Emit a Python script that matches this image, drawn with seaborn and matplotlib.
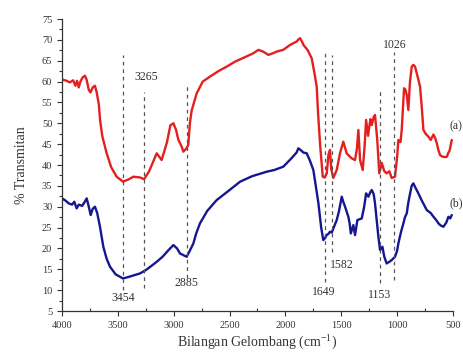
import matplotlib
matplotlib.use("Agg")
import matplotlib.pyplot as plt
import seaborn as sns
import pandas as pd
from matplotlib.ticker import MultipleLocator

# ---- data ----
wn_a = [4000, 3960, 3930, 3900, 3880, 3865, 3850, 3835, 3815, 3795, 3780, 3760, 3745, 3725,
        3705, 3690, 3670, 3660, 3640, 3600, 3560, 3511, 3454, 3400, 3361, 3300, 3265, 3220,
        3180, 3152, 3108, 3060, 3030, 3003, 2980, 2958, 2930, 2914, 2885, 2870, 2855, 2840,
        2794, 2740, 2675, 2600, 2525, 2450, 2350, 2287, 2242, 2200, 2153, 2110, 2078, 2020,
        1958, 1900, 1880, 1869, 1850, 1839, 1800, 1765, 1740, 1720, 1708, 1690, 1666, 1649,
        1630, 1615, 1601, 1590, 1571, 1541, 1510, 1482, 1452, 1407, 1377, 1360, 1347, 1332,
        1308, 1290, 1278, 1260, 1240, 1227, 1210, 1198, 1178, 1160, 1138, 1115, 1094, 1070,
        1049, 1019, 1000, 989, 970, 959, 945, 938, 925, 914, 900, 885, 869, 855, 840, 815,
        795, 780, 765, 745, 720, 700, 675, 660, 645, 630, 616, 595, 571, 555, 544, 530, 511]
tr_a = [60.5, 60.2, 59.8, 60.3, 59.0, 60.2, 58.6, 60.0, 61.0, 61.4, 60.5, 58.0, 57.4, 58.6,
        59.0, 57.5, 54.5, 51.0, 47.0, 42.8, 39.5, 37.2, 36.0, 36.6, 37.2, 37.0, 36.6, 38.5,
        41.0, 42.8, 41.2, 45.5, 49.5, 50.0, 48.5, 46.0, 44.5, 43.2, 44.0, 44.8, 50.0, 53.0,
        57.2, 60.0, 61.2, 62.5, 63.6, 64.8, 66.0, 66.8, 67.6, 67.2, 66.4, 66.8, 67.2, 67.6,
        68.8, 69.6, 70.2, 70.4, 69.5, 68.8, 67.5, 65.6, 62.0, 58.8, 52.5, 45.0, 37.2, 37.0,
        38.0, 42.5, 43.6, 39.0, 36.9, 38.8, 43.0, 45.6, 42.8, 41.6, 41.2, 44.0, 48.4, 41.2,
        38.8, 45.0, 50.8, 47.0, 51.0, 49.6, 51.5, 52.0, 46.0, 38.0, 40.5, 38.5, 38.0, 38.5,
        36.9, 37.2, 42.0, 46.0, 45.5, 48.4, 55.0, 58.4, 58.0, 56.8, 53.2, 60.0, 63.6, 64.0,
        63.6, 61.0, 58.8, 54.0, 48.4, 47.5, 46.8, 46.0, 47.3, 46.5, 45.2, 43.5, 42.4, 42.0,
        41.9, 42.0, 42.8, 43.5, 46.0]

wn_b = [4000, 3970, 3940, 3910, 3890, 3869, 3850, 3820, 3800, 3779, 3760, 3743, 3725, 3705,
        3685, 3660, 3630, 3600, 3570, 3520, 3454, 3400, 3302, 3250, 3200, 3152, 3100, 3050,
        3003, 2970, 2944, 2884, 2855, 2824, 2800, 2765, 2700, 2615, 2500, 2406, 2300, 2167,
        2100, 2019, 1950, 1900, 1884, 1860, 1840, 1809, 1780, 1750, 1705, 1680, 1661, 1645,
        1631, 1615, 1601, 1585, 1571, 1541, 1520, 1496, 1480, 1466, 1437, 1425, 1415, 1392,
        1377, 1356, 1335, 1317, 1295, 1278, 1257, 1240, 1227, 1210, 1198, 1168, 1153, 1132,
        1115, 1094, 1070, 1049, 1019, 1000, 989, 965, 944, 930, 914, 900, 884, 870, 855, 835,
        810, 780, 760, 735, 700, 675, 650, 630, 610, 586, 560, 541, 525, 511]
tr_b = [32.0, 31.5, 30.8, 30.5, 31.2, 29.6, 30.5, 30.2, 31.0, 32.0, 30.0, 28.0, 29.5, 30.0,
        28.5, 25.2, 20.4, 17.5, 15.6, 13.8, 12.8, 13.2, 14.0, 14.8, 15.8, 16.8, 18.0, 19.5,
        20.8, 20.0, 18.8, 18.0, 19.5, 21.2, 23.5, 26.0, 29.0, 31.6, 34.0, 36.0, 37.3, 38.4,
        38.8, 39.6, 41.5, 43.0, 44.0, 43.5, 43.0, 42.8, 41.0, 38.8, 30.9, 25.0, 22.0, 22.5,
        23.2, 23.5, 24.0, 23.8, 24.8, 26.8, 29.0, 32.4, 31.0, 30.0, 27.6, 26.0, 23.6, 25.6,
        23.2, 26.8, 27.0, 27.2, 30.0, 33.2, 32.4, 33.5, 34.0, 33.0, 30.8, 22.8, 19.6, 20.4,
        18.0, 16.4, 16.8, 17.2, 18.0, 19.5, 21.2, 24.0, 26.0, 27.5, 28.4, 31.0, 33.2, 35.0,
        35.6, 34.5, 33.2, 31.5, 30.5, 29.2, 28.5, 27.6, 26.8, 26.0, 25.5, 25.2, 26.2, 27.6,
        27.2, 28.0]

peaks = [3454, 3265, 2885, 1649, 1582, 1153, 1026]
peak_top = [66.4, 57.6, 59.6, 67.6, 66.4, 58.4, 67.2]
peak_bottom = [10.0, 10.5, 12.9, 12.0, 19.2, 11.6, 12.4]
peak_labels = ["3454", "3265", "2885", "1649", "1582", "1153", "1026"]
label_x = [3454, 3245, 2885, 1660, 1496, 1160, 1020]
label_y = [8.1, 61.1, 11.6, 9.6, 16.0, 8.8, 68.8]

series_labels = ["(a)", "(b)"]
series_label_y = [49.2, 30.9]

df = pd.concat([
    pd.DataFrame({"wn": wn_a, "T": tr_a, "s": "a"}),
    pd.DataFrame({"wn": wn_b, "T": tr_b, "s": "b"}),
])

sns.set_style("ticks")
plt.rcParams["font.family"] = ["Liberation Serif", "DejaVu Serif"]
plt.rcParams["mathtext.fontset"] = "custom"
plt.rcParams["mathtext.rm"] = "Liberation Serif"
plt.rcParams["mathtext.it"] = "Liberation Serif:italic"

fig = plt.figure(figsize=(4.64, 3.56), dpi=100)
ax = fig.add_axes([0.1336, 0.1264, 0.8427, 0.8202])

sns.lineplot(data=df, x="wn", y="T", hue="s", sort=False, estimator=None,
             palette={"a": "#e3201e", "b": "#15178f"}, linewidth=1.7, legend=False, ax=ax)

ax.vlines(peaks, peak_bottom, peak_top, colors="#555555", linestyles=(0, (3, 3)), linewidth=0.9)
for t, x, y in zip(peak_labels, label_x, label_y):
    ax.text(x, y, t, ha="center", va="center", fontsize=8.5, color="#333333")
for t, y in zip(series_labels, series_label_y):
    ax.text(535, y, t, ha="left", va="center", fontsize=8.5, color="#333333", clip_on=False)

ax.set_xlim(4000, 500)
ax.set_ylim(5, 75)
ax.xaxis.set_major_locator(MultipleLocator(500))
ax.xaxis.set_minor_locator(MultipleLocator(250))
ax.yaxis.set_major_locator(MultipleLocator(5))
ax.yaxis.set_minor_locator(MultipleLocator(2.5))
ax.tick_params(axis="both", which="major", labelsize=7.5, length=3.5, width=0.8,
               colors="#333333", direction="out")
ax.tick_params(axis="x", which="minor", length=2.5, width=0.8, direction="in", colors="#333333")
ax.tick_params(axis="y", which="minor", length=2, width=0.8, direction="out", colors="#333333")
for s in ["left", "bottom"]:
    ax.spines[s].set_color("#333333")
    ax.spines[s].set_linewidth(0.9)
sns.despine(ax=ax)

ax.set_xlabel("Bilangan Gelombang (cm$^{\\mathrm{-1}}$)", fontsize=10, color="#333333", labelpad=3)
ax.set_ylabel("% Transmitan", fontsize=10, color="#333333", labelpad=10)

fig.savefig("out.png", dpi=100)
